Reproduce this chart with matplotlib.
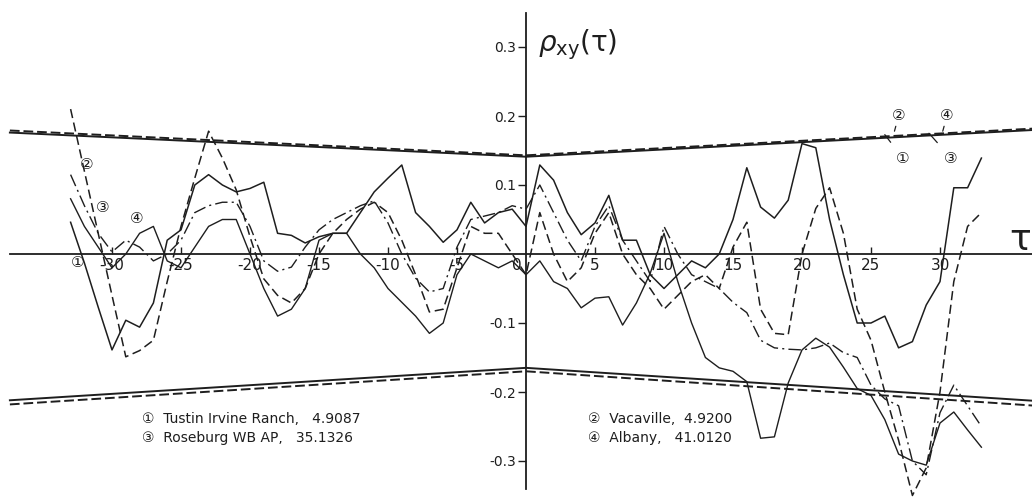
import numpy as np
import matplotlib
matplotlib.use("Agg")
import matplotlib.pyplot as plt

plt.rcParams['font.family'] = ['DejaVu Sans', 'Noto Sans CJK JP']
plt.rcParams['axes.unicode_minus'] = False

# lags
lags = np.arange(-33, 34)

# cross-correlations, lag -33 .. 33
tustin = [0.046, -0.013, -0.077, -0.139, -0.096, -0.106, -0.071, 0.02, 0.035, 0.10,
          0.115, 0.10, 0.09, 0.095, 0.104, 0.03, 0.027, 0.016, 0.025, 0.03,
          0.03, 0.06, 0.09, 0.11, 0.129, 0.06, 0.04, 0.017, 0.035, 0.075,
          0.045, 0.06, 0.065, 0.04, 0.129, 0.107, 0.06, 0.028, 0.045, 0.085,
          0.02, 0.02, -0.03, -0.05, -0.03, -0.01, -0.02, 0.0, 0.05, 0.125,
          0.068, 0.052, 0.078, 0.16, 0.154, 0.05, -0.03, -0.10, -0.10, -0.09,
          -0.136, -0.127, -0.074, -0.04, 0.096, 0.096, 0.139]
vacaville = [0.21, 0.12, 0.03, -0.06, -0.149, -0.14, -0.125, -0.04, 0.04, 0.11,
             0.178, 0.139, 0.093, 0.025, -0.036, -0.06, -0.071, -0.05, 0.0, 0.03,
             0.05, 0.065, 0.075, 0.06, 0.02, -0.03, -0.084, -0.08, -0.02, 0.04,
             0.03, 0.03, 0.0, -0.03, 0.06, 0.0, -0.04, -0.02, 0.03, 0.06,
             0.0, -0.03, -0.05, -0.08, -0.06, -0.04, -0.03, -0.05, 0.01, 0.046,
             -0.08, -0.115, -0.117, 0.0, 0.066, 0.096, 0.03, -0.08, -0.125, -0.2,
             -0.27, -0.35, -0.31, -0.2, -0.04, 0.04, 0.06]
roseburg = [0.115, 0.07, 0.03, 0.003, 0.02, 0.01, -0.01, 0.0, 0.02, 0.06,
            0.07, 0.075, 0.075, 0.04, -0.01, -0.025, -0.019, 0.01, 0.035, 0.05,
            0.06, 0.07, 0.077, 0.045, 0.0, -0.035, -0.055, -0.05, 0.01, 0.05,
            0.055, 0.06, 0.07, 0.065, 0.10, 0.06, 0.02, -0.01, 0.04, 0.07,
            0.02, -0.01, -0.04, 0.04, 0.0, -0.03, -0.04, -0.05, -0.07, -0.085,
            -0.125, -0.136, -0.138, -0.139, -0.136, -0.129, -0.143, -0.15, -0.19, -0.21,
            -0.22, -0.30, -0.32, -0.23, -0.19, -0.22, -0.25]
albany = [0.08, 0.04, 0.01, -0.02, 0.0, 0.03, 0.04, -0.01, -0.02, 0.01,
          0.04, 0.05, 0.05, 0.0, -0.05, -0.09, -0.08, -0.05, 0.02, 0.03,
          0.03, 0.0, -0.02, -0.05, -0.07, -0.09, -0.115, -0.10, -0.03, 0.0,
          -0.01, -0.02, -0.01, -0.03, -0.01, -0.04, -0.05, -0.078, -0.064, -0.062,
          -0.103, -0.071, -0.028, 0.03, -0.04, -0.10, -0.15, -0.165, -0.17, -0.185,
          -0.267, -0.265, -0.187, -0.139, -0.122, -0.135, -0.164, -0.195, -0.205, -0.24,
          -0.29, -0.30, -0.306, -0.245, -0.229, -0.255, -0.28]

# confidence limits (left end, centre, right end)
band_lags = [-37.4, 0, 37]
upper_solid = [0.176, 0.141, 0.180]
upper_dash = [0.179, 0.143, 0.182]
lower_solid = [-0.212, -0.165, -0.213]
lower_dash = [-0.218, -0.170, -0.220]

ink = '#1e1e1e'

fig = plt.figure(figsize=(10.32, 5.0), dpi=100)
ax = fig.add_axes([0, 0, 1, 1])
ax.set_xlim(-526 / 13.8, (1032 - 526) / 13.8)
ax.set_ylim(-246 / 690, 254 / 690)

ax.plot(lags, tustin, color=ink, lw=1.1)
ax.plot(lags, vacaville, color=ink, lw=1.1, linestyle=(0, (6, 3)))
ax.plot(lags, roseburg, color=ink, lw=1.0, linestyle=(0, (9, 3, 1.5, 3)))
ax.plot(lags, albany, color=ink, lw=1.0)

ax.plot(band_lags, upper_solid, color=ink, lw=1.4)
ax.plot(band_lags, upper_dash, color=ink, lw=1.4, linestyle=(0, (5, 2)))
ax.plot(band_lags, lower_solid, color=ink, lw=1.4)
ax.plot(band_lags, lower_dash, color=ink, lw=1.4, linestyle=(0, (5, 2)))

# axes through the origin
for s in ['top', 'right']:
    ax.spines[s].set_visible(False)
ax.spines['left'].set_position(('data', 0))
ax.spines['bottom'].set_position(('data', 0))
ax.spines['left'].set_bounds(-0.34, 0.35)
ax.spines['bottom'].set_bounds(-37.4, 37)
for s in ['left', 'bottom']:
    ax.spines[s].set_color(ink)
    ax.spines[s].set_linewidth(1.3)

xt = [-30, -25, -20, -15, -10, -5, 5, 10, 15, 20, 25, 30]
ax.set_xticks(xt)
ax.set_xticklabels([str(t) for t in xt])
ax.tick_params(axis='x', direction='in', length=5, width=1, color=ink,
               labelsize=11, labelcolor=ink, pad=3)
ax.set_yticks([-0.3, -0.2, -0.1, 0.1, 0.2, 0.3])
ax.set_yticklabels(['-0.3', '-0.2', '-0.1', '0.1', '0.2', '0.3'])
ax.tick_params(axis='y', direction='out', length=6, width=1, color=ink,
               labelsize=10, labelcolor=ink, pad=1)
ax.text(-0.7, -0.006, '0', ha='center', va='top', fontsize=11, color=ink)

ax.text(0.9, 0.303, r'$\rho_{\mathrm{xy}}(\mathrm{\tau})$', fontsize=20, color=ink,
        ha='left', va='center')
ax.text(36.6, 0.02, '\u03c4', fontsize=26, color=ink, ha='right', va='center')

# legend text
ax.text(-27.8, -0.245, '\u2460  Tustin Irvine Ranch,   4.9087', fontsize=10, color=ink)
ax.text(-27.8, -0.273, '\u2462  Roseburg WB AP,   35.1326', fontsize=10, color=ink)
ax.text(4.5, -0.245, '\u2461  Vacaville,  4.9200', fontsize=10, color=ink)
ax.text(4.5, -0.273, '\u2463  Albany,   41.0120', fontsize=10, color=ink)

# curve labels at the left
for lab, x, y in [('\u2460', -32.5, -0.012), ('\u2461', -31.8, 0.129),
                  ('\u2462', -30.7, 0.068), ('\u2463', -28.2, 0.052)]:
    ax.text(x, y, lab, fontsize=11, color=ink, ha='center', va='center')

# labels on the confidence limits
for lab, tx, ty, px, py in [('\u2461', 27.0, 0.200, 26.7, 0.178),
                            ('\u2463', 30.5, 0.200, 30.2, 0.178),
                            ('\u2460', 27.3, 0.139, 26.0, 0.173),
                            ('\u2462', 30.8, 0.139, 29.2, 0.175)]:
    ax.annotate(lab, xy=(px, py), xytext=(tx, ty), fontsize=11, color=ink,
                ha='center', va='center',
                arrowprops=dict(arrowstyle='-', color=ink, lw=0.9,
                                shrinkA=5, shrinkB=0))

fig.savefig('out.png', dpi=100)
